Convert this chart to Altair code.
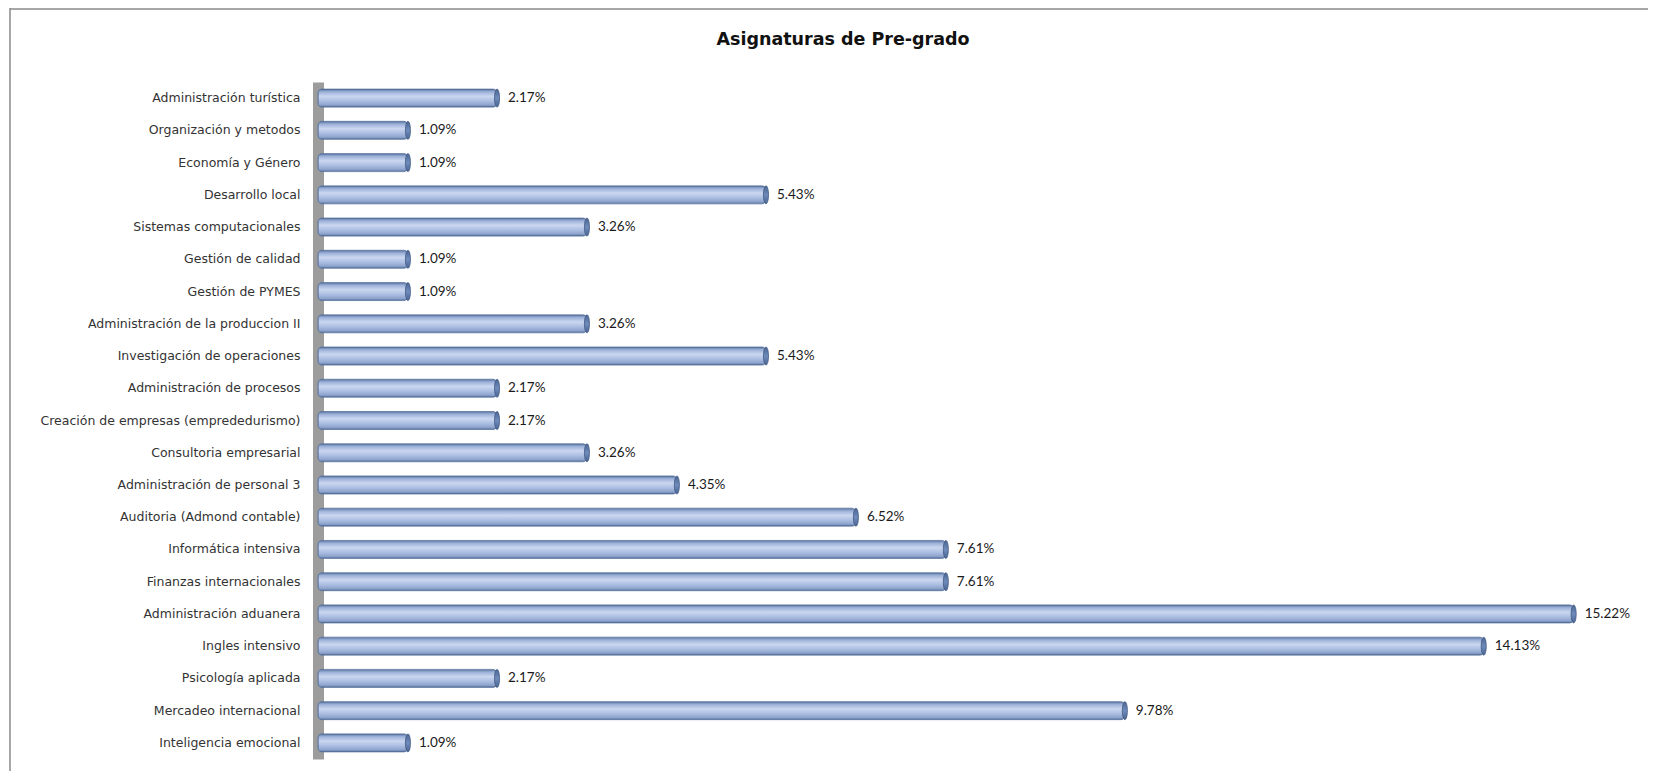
import altair as alt
import pandas as pd

title_text = ["Asignaturas de Pre-grado"]

categories = [
    "Administración turística",
    "Organización y metodos",
    "Economía y Género",
    "Desarrollo local",
    "Sistemas computacionales",
    "Gestión de calidad",
    "Gestión de PYMES",
    "Administración de la produccion II",
    "Investigación de operaciones",
    "Administración de procesos",
    "Creación de empresas  (emprededurismo)",
    "Consultoria empresarial",
    "Administración de personal 3",
    "Auditoria (Admond contable)",
    "Informática intensiva",
    "Finanzas internacionales",
    "Administración aduanera",
    "Ingles intensivo",
    "Psicología aplicada",
    "Mercadeo internacional",
    "Inteligencia emocional",
]
values = [2.17, 1.09, 1.09, 5.43, 3.26, 1.09, 1.09, 3.26, 5.43, 2.17, 2.17,
          3.26, 4.35, 6.52, 7.61, 7.61, 15.22, 14.13, 2.17, 9.78, 1.09]
labels = [f"{v:.2f}%" for v in values]

df = pd.DataFrame({"cat": categories, "val": values, "lab": labels})

W = 1320
H = 677

x_scale = alt.Scale(domain=[0, 16])
y_enc = alt.Y("cat:N", sort=None, title=None,
              scale=alt.Scale(paddingInner=0, paddingOuter=0),
              axis=alt.Axis(domainColor="#9c9c9c", domainWidth=11, domainCap="butt",
                            ticks=False, labelPadding=18, labelFontSize=12.5,
                            labelLimit=400,
                            labelFont="DejaVu Sans", labelColor="#333333"))

bar_grad = alt.Gradient(
    gradient="linear", x1=0, x2=0, y1=0, y2=1,
    stops=[
        alt.GradientStop(offset=0, color="#5a739e"),
        alt.GradientStop(offset=0.15, color="#9bb0d8"),
        alt.GradientStop(offset=0.4, color="#cbd7f0"),
        alt.GradientStop(offset=0.65, color="#adbfe3"),
        alt.GradientStop(offset=0.88, color="#8ea4cd"),
        alt.GradientStop(offset=1, color="#56709b"),
    ],
)
cap_grad = alt.Gradient(
    gradient="linear", x1=0, x2=0, y1=0, y2=1,
    stops=[
        alt.GradientStop(offset=0, color="#4a6591"),
        alt.GradientStop(offset=0.5, color="#6f8bbb"),
        alt.GradientStop(offset=1, color="#4a6591"),
    ],
)

base = alt.Chart(df)

bars = base.mark_bar(size=18, fill=bar_grad, stroke="#54709c", strokeWidth=0.8,
                     cornerRadius=4).encode(
    x=alt.X("val:Q", scale=x_scale, axis=None),
    y=y_enc,
)

caps = base.mark_point(
    shape="M0,-1A0.28,1,0,1,1,0,1A0.28,1,0,1,1,0,-1Z",
    size=324, filled=True, fill=cap_grad, stroke="#3f5883", strokeWidth=0.8, opacity=1,
).encode(
    x=alt.X("val:Q", scale=x_scale),
    y=alt.Y("cat:N", sort=None),
)

text = base.mark_text(align="left", baseline="middle", dx=11, fontSize=13.5,
                      font="Lato", color="#1a1a1a").encode(
    x=alt.X("val:Q", scale=x_scale),
    y=alt.Y("cat:N", sort=None),
    text="lab:N",
)

one = pd.DataFrame({"t": title_text})

title = alt.Chart(one).mark_text(
    font="DejaVu Sans", fontSize=17.5, fontWeight="bold", color="#111111",
    align="center", baseline="middle").encode(
    x=alt.value(525), y=alt.value(-42), text="t:N")

frame_left = alt.Chart(one).mark_rule(
    color="#8a8a8a", strokeWidth=1.5).encode(
    x=alt.value(-308), y=alt.value(-74), y2=alt.value(H + 20))
frame_top = alt.Chart(one).mark_rule(
    color="#8a8a8a", strokeWidth=1.5).encode(
    x=alt.value(-308), x2=alt.value(W + 30), y=alt.value(-73))

chart = alt.layer(frame_left, frame_top, bars, caps, text, title).properties(
    width=W, height=H,
    padding={"left": 310, "top": 74, "right": 10, "bottom": 12},
    autosize=alt.AutoSizeParams(type="none"),
).configure_view(stroke=None).configure_axis(zindex=0)

chart.save("out.html", embed_options={"renderer": "svg", "actions": False})
